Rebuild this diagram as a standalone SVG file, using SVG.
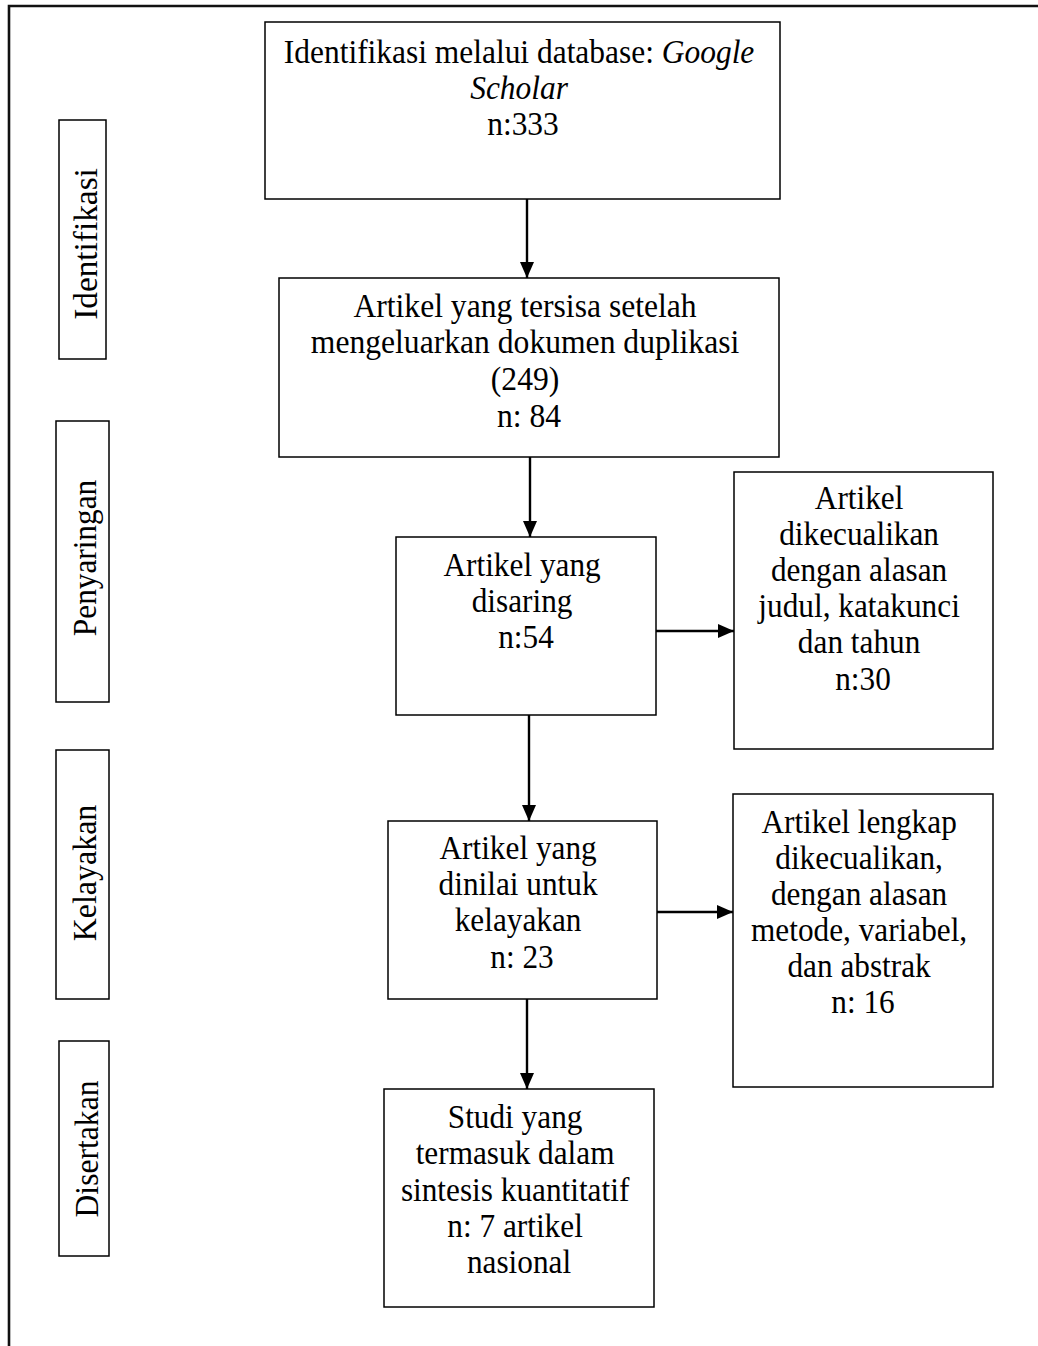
<svg xmlns="http://www.w3.org/2000/svg" width="1038" height="1346" viewBox="0 0 1038 1346">
<style>
  .box { fill: #ffffff; stroke: #000000; stroke-width: 1.5; }
  .t { font-family: "Liberation Serif", "Times New Roman", serif; font-size: 34px; fill: #000000; text-anchor: middle; }
  .it { font-style: italic; }
  .conn { stroke: #000000; stroke-width: 2.4; fill: none; marker-end: url(#arrow); }
  .frame { stroke: #111111; stroke-width: 2.6; fill: none; }
</style>
<defs>
  <marker id="arrow" markerUnits="userSpaceOnUse" markerWidth="16" markerHeight="16" refX="16" refY="8" orient="auto">
    <path d="M0,1 L16,8 L0,15 z" fill="#000000"/>
  </marker>
</defs>
<rect x="0" y="0" width="1038" height="1346" fill="#ffffff"/>
<path class="frame" d="M9,1346 L9,6 L1038,6"/>

<g id="stage-identifikasi">
  <rect class="box" x="59" y="120" width="47" height="239"/>
  <text class="t" transform="translate(97 244) rotate(-90) scale(0.98 1)" x="0" y="0">Identifikasi</text>
</g>
<g id="stage-penyaringan">
  <rect class="box" x="56" y="421" width="53" height="281"/>
  <text class="t" transform="translate(96 558) rotate(-90) scale(0.92 1)" x="0" y="0">Penyaringan</text>
</g>
<g id="stage-kelayakan">
  <rect class="box" x="56" y="750" width="53" height="249"/>
  <text class="t" transform="translate(96 873) rotate(-90) scale(0.94 1)" x="0" y="0">Kelayakan</text>
</g>
<g id="stage-disertakan">
  <rect class="box" x="59" y="1041" width="50" height="215"/>
  <text class="t" transform="translate(98 1149) rotate(-90) scale(0.93 1)" x="0" y="0">Disertakan</text>
</g>

<g id="n1">
  <rect class="box" x="265" y="22" width="515" height="177"/>
  <text class="t" transform="translate(523 0) scale(0.925 1)">
    <tspan x="0" y="63">Identifikasi melalui database: <tspan class="it">Google</tspan></tspan>
    <tspan x="0" y="99" class="it">Scholar</tspan>
    <tspan x="0" y="135">n:333</tspan>
  </text>
</g>
<g id="n2">
  <rect class="box" x="279" y="278" width="500" height="179"/>
  <text class="t" transform="translate(529 0) scale(0.93 1)">
    <tspan x="0" y="317">Artikel yang tersisa setelah</tspan>
    <tspan x="0" y="353">mengeluarkan dokumen duplikasi</tspan>
    <tspan x="0" y="390">(249)</tspan>
    <tspan x="0" y="427">n: 84</tspan>
  </text>
</g>
<g id="n3">
  <rect class="box" x="396" y="537" width="260" height="178"/>
  <text class="t" transform="translate(526 0) scale(0.92 1)">
    <tspan x="0" y="576">Artikel yang</tspan>
    <tspan x="0" y="612">disaring</tspan>
    <tspan x="0" y="648">n:54</tspan>
  </text>
</g>
<g id="n4">
  <rect class="box" x="734" y="472" width="259" height="277"/>
  <text class="t" transform="translate(863 0) scale(0.92 1)">
    <tspan x="0" y="509">Artikel</tspan>
    <tspan x="0" y="545">dikecualikan</tspan>
    <tspan x="0" y="581">dengan alasan</tspan>
    <tspan x="0" y="617">judul, katakunci</tspan>
    <tspan x="0" y="653">dan tahun</tspan>
    <tspan x="0" y="690">n:30</tspan>
  </text>
</g>
<g id="n5">
  <rect class="box" x="388" y="821" width="269" height="178"/>
  <text class="t" transform="translate(522 0) scale(0.92 1)">
    <tspan x="0" y="859">Artikel yang</tspan>
    <tspan x="0" y="895">dinilai untuk</tspan>
    <tspan x="0" y="931">kelayakan</tspan>
    <tspan x="0" y="968">n: 23</tspan>
  </text>
</g>
<g id="n6">
  <rect class="box" x="733" y="794" width="260" height="293"/>
  <text class="t" transform="translate(863 0) scale(0.92 1)">
    <tspan x="0" y="833">Artikel lengkap</tspan>
    <tspan x="0" y="869">dikecualikan,</tspan>
    <tspan x="0" y="905">dengan alasan</tspan>
    <tspan x="0" y="941">metode, variabel,</tspan>
    <tspan x="0" y="977">dan abstrak</tspan>
    <tspan x="0" y="1013">n: 16</tspan>
  </text>
</g>
<g id="n7">
  <rect class="box" x="384" y="1089" width="270" height="218"/>
  <text class="t" transform="translate(519 0) scale(0.92 1)">
    <tspan x="0" y="1128">Studi yang</tspan>
    <tspan x="0" y="1164">termasuk dalam</tspan>
    <tspan x="0" y="1201">sintesis kuantitatif</tspan>
    <tspan x="0" y="1237">n: 7 artikel</tspan>
    <tspan x="0" y="1273">nasional</tspan>
  </text>
</g>

<g id="connectors">
  <line class="conn" x1="527" y1="199" x2="527" y2="278"/>
  <line class="conn" x1="530" y1="457" x2="530" y2="537"/>
  <line class="conn" x1="656" y1="631" x2="734" y2="631"/>
  <line class="conn" x1="529" y1="715" x2="529" y2="821"/>
  <line class="conn" x1="657" y1="912" x2="733" y2="912"/>
  <line class="conn" x1="527" y1="999" x2="527" y2="1089"/>
</g>
</svg>
